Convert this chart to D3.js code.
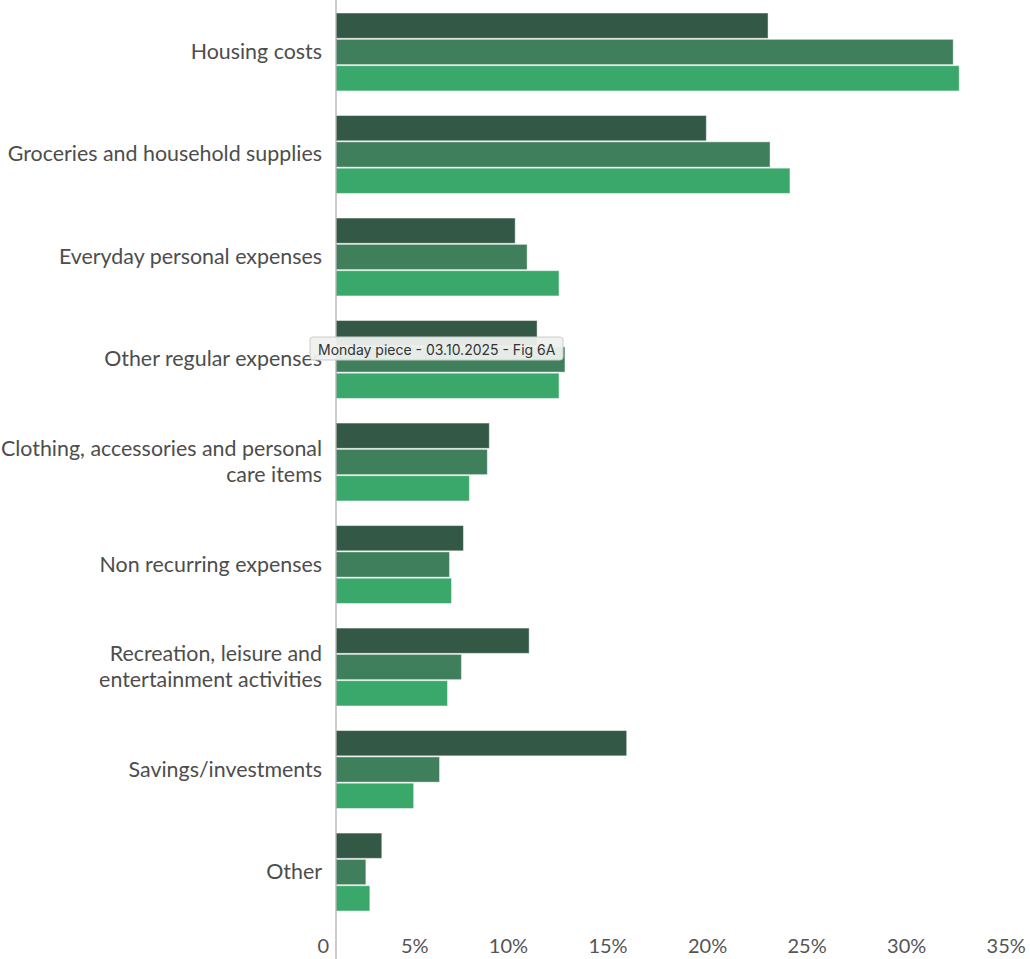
<!DOCTYPE html>
<html>
<head>
<meta charset="utf-8">
<script src="https://cdn.jsdelivr.net/npm/d3@7"></script>
<style>
  html, body { margin: 0; padding: 0; background: #fff; }
  svg { display: block; font-family: Lato, "Open Sans", sans-serif; }
</style>
</head>
<body>
<svg id="chart" width="1030" height="959"></svg>
<script>
const categories = [
  ["Housing costs"],
  ["Groceries and household supplies"],
  ["Everyday personal expenses"],
  ["Other regular expenses"],
  ["Clothing, accessories and personal", "care items"],
  ["Non recurring expenses"],
  ["Recreation, leisure and", "entertainment activities"],
  ["Savings/investments"],
  ["Other"]
];
const seriesNames = ["Series A", "Series B", "Series C"];
const seriesA = [21.7, 18.6, 9.0, 10.1, 7.7, 6.4, 9.7, 14.6, 2.3];
const seriesB = [31.0, 21.8, 9.6, 11.5, 7.6, 5.7, 6.3, 5.2, 1.5];
const seriesC = [31.3, 22.8, 11.2, 11.2, 6.7, 5.8, 5.6, 3.9, 1.7];
const seriesColors = ["#345846", "#407f5b", "#3aa76b"];
const tickValues = [0, 5, 10, 15, 20, 25, 30, 35];
const tickLabels = ["0", "5%", "10%", "15%", "20%", "25%", "30%", "35%"];
const tooltipText = "Monday piece - 03.10.2025 - Fig 6A";

const svg = d3.select("#chart");
const x0 = 336;
const x = d3.scaleLinear().domain([0, 35]).range([x0, x0 + 35 * 19.91]);
const catKeys = categories.map((d, i) => i);
const y = d3.scaleBand().domain(catKeys).range([0, 924]).paddingInner(0.24).paddingOuter(0.127);
const ySub = d3.scaleBand().domain(d3.range(3)).range([0, y.bandwidth()]).paddingInner(0.04);

const allSeries = [seriesA, seriesB, seriesC];

const g = svg.append("g");
categories.forEach((cat, i) => {
  const grp = g.append("g").attr("transform", `translate(0,${y(i)})`);
  allSeries.forEach((s, j) => {
    grp.append("rect")
      .attr("x", x(0))
      .attr("y", ySub(j))
      .attr("width", x(s[i]) - x(0))
      .attr("height", ySub.bandwidth())
      .attr("fill", seriesColors[j])
      .attr("stroke", "rgba(255,255,255,0.45)")
      .attr("stroke-width", 1);
  });
  const cy = y(i) + y.bandwidth() / 2 - 1;
  const lh = 26;
  const t = svg.append("text")
    .attr("text-anchor", "end")
    .attr("fill", "#4d4d4d")
    .attr("font-size", 21.4)
    .attr("dominant-baseline", "central");
  cat.forEach((line, k) => {
    t.append("tspan")
      .attr("x", 322)
      .attr("y", cy + (k - (cat.length - 1) / 2) * lh)
      .text(line);
  });
});

// vertical axis line
svg.append("line")
  .attr("x1", x(0)).attr("x2", x(0))
  .attr("y1", 0).attr("y2", 959)
  .attr("stroke", "#aaa").attr("stroke-width", 1.2);

// x axis labels
const xAxis = d3.axisBottom(x).tickValues(tickValues).tickFormat((d, i) => tickLabels[i]).tickSize(0).tickPadding(0);
const ax = svg.append("g").attr("transform", "translate(0,945)").call(xAxis);
ax.select(".domain").remove();
ax.selectAll("text")
  .attr("text-anchor", "end")
  .attr("dx", -7.5)
  .attr("dy", 0)
  .attr("y", 0)
  .attr("dominant-baseline", "central")
  .attr("font-family", "Lato, 'Open Sans', sans-serif")
  .attr("font-size", 20)
  .attr("fill", "#555");

// tooltip
const tip = svg.append("g").attr("transform", "translate(310,337)");
tip.append("rect")
  .attr("width", 253).attr("height", 23).attr("rx", 3)
  .attr("fill", "#eef1ee").attr("fill-opacity", 0.95)
  .attr("stroke", "#c9cec9").attr("stroke-width", 1);
tip.append("text")
  .attr("x", 8).attr("y", 12)
  .attr("dominant-baseline", "central")
  .attr("font-family", "Inter, 'Noto Sans', sans-serif")
  .attr("font-size", 14)
  .attr("fill", "#333")
  .text(tooltipText);
</script>
</body>
</html>
